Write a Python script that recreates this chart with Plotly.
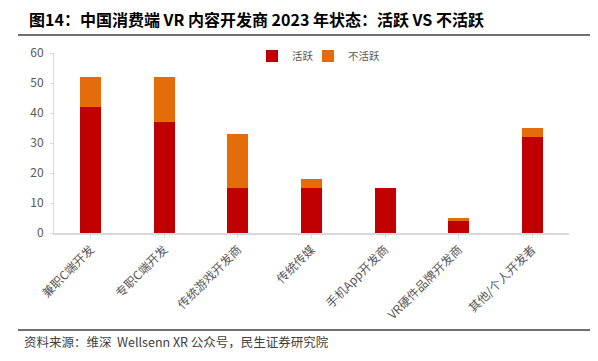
import plotly.graph_objects as go

categories = ["兼职C端开发", "专职C端开发", "传统游戏开发商", "传统传媒", "手机App开发商", "VR硬件品牌开发商", "其他/个人开发者"]
active = [42, 37, 15, 15, 15, 4, 32]
inactive = [10, 15, 18, 3, 0, 1, 3]

font_family = "Noto Sans CJK SC"

# page body has an 8px margin; figure coordinates = reference coordinates - 8
W, H = 590, 353
L, T, R, B = 46, 45, 29, 128
PW = W - L - R
PH = H - T - B


def px(x):
    return (x - 8 - L) / PW


def py(y):
    return 1 - (y - 8 - T) / PH


fig = go.Figure()
fig.add_trace(go.Bar(x=categories, y=active, name="活跃", marker_color="#C00000",
                     marker_line_width=0, legend="legend"))
fig.add_trace(go.Bar(x=categories, y=inactive, name="不活跃", marker_color="#E46C0A",
                     marker_line_width=0, legend="legend2"))

leg_common = dict(orientation="h", yanchor="middle", xanchor="left",
                  font=dict(size=10.5, color="#595959"), itemwidth=30,
                  bgcolor="rgba(0,0,0,0)", borderwidth=0)

fig.update_layout(
    width=W, height=H,
    barmode="stack", bargap=0.715,
    paper_bgcolor="white", plot_bgcolor="white",
    font=dict(family=font_family, color="#595959", size=12),
    margin=dict(l=L, r=R, t=T, b=B, autoexpand=False),
    showlegend=True,
    legend=dict(x=px(252), y=py(56), **leg_common),
    legend2=dict(x=px(308), y=py(56), **leg_common),
    xaxis=dict(showline=True, linecolor="#D9D9D9", linewidth=1.5, tickangle=-45,
               ticks="outside", ticklen=3, tickcolor="#D9D9D9",
               tickfont=dict(size=12, color="#595959"), showgrid=False),
    yaxis=dict(range=[0, 60], dtick=10, showline=True, linecolor="#D9D9D9", linewidth=1,
               ticks="outside", ticklen=3, tickcolor="#D9D9D9", showgrid=False,
               zeroline=False, ticklabelstandoff=4,
               tickfont=dict(size=12, color="#595959")),
    annotations=[
        dict(text="<b>图14：中国消费端 VR 内容开发商 2023 年状态：活跃 VS 不活跃</b>", xref="paper", yref="paper",
             x=px(27), y=py(19), xanchor="left", yanchor="middle", showarrow=False,
             font=dict(size=16, color="#000000", family=font_family)),
        dict(text="资料来源：维深  Wellsenn XR 公众号，民生证券研究院", xref="paper", yref="paper",
             x=px(22), y=py(341), xanchor="left", yanchor="middle", showarrow=False,
             font=dict(size=12.5, color="#404040", family=font_family)),
    ],
    shapes=[
        dict(type="line", xref="paper", yref="paper", x0=px(18), x1=px(592),
             y0=py(35), y1=py(35), line=dict(color="#404040", width=1.5)),
        dict(type="line", xref="paper", yref="paper", x0=px(18), x1=px(592),
             y0=py(330), y1=py(330), line=dict(color="#404040", width=1.5)),
    ],
)

fig.write_html("out.html")
